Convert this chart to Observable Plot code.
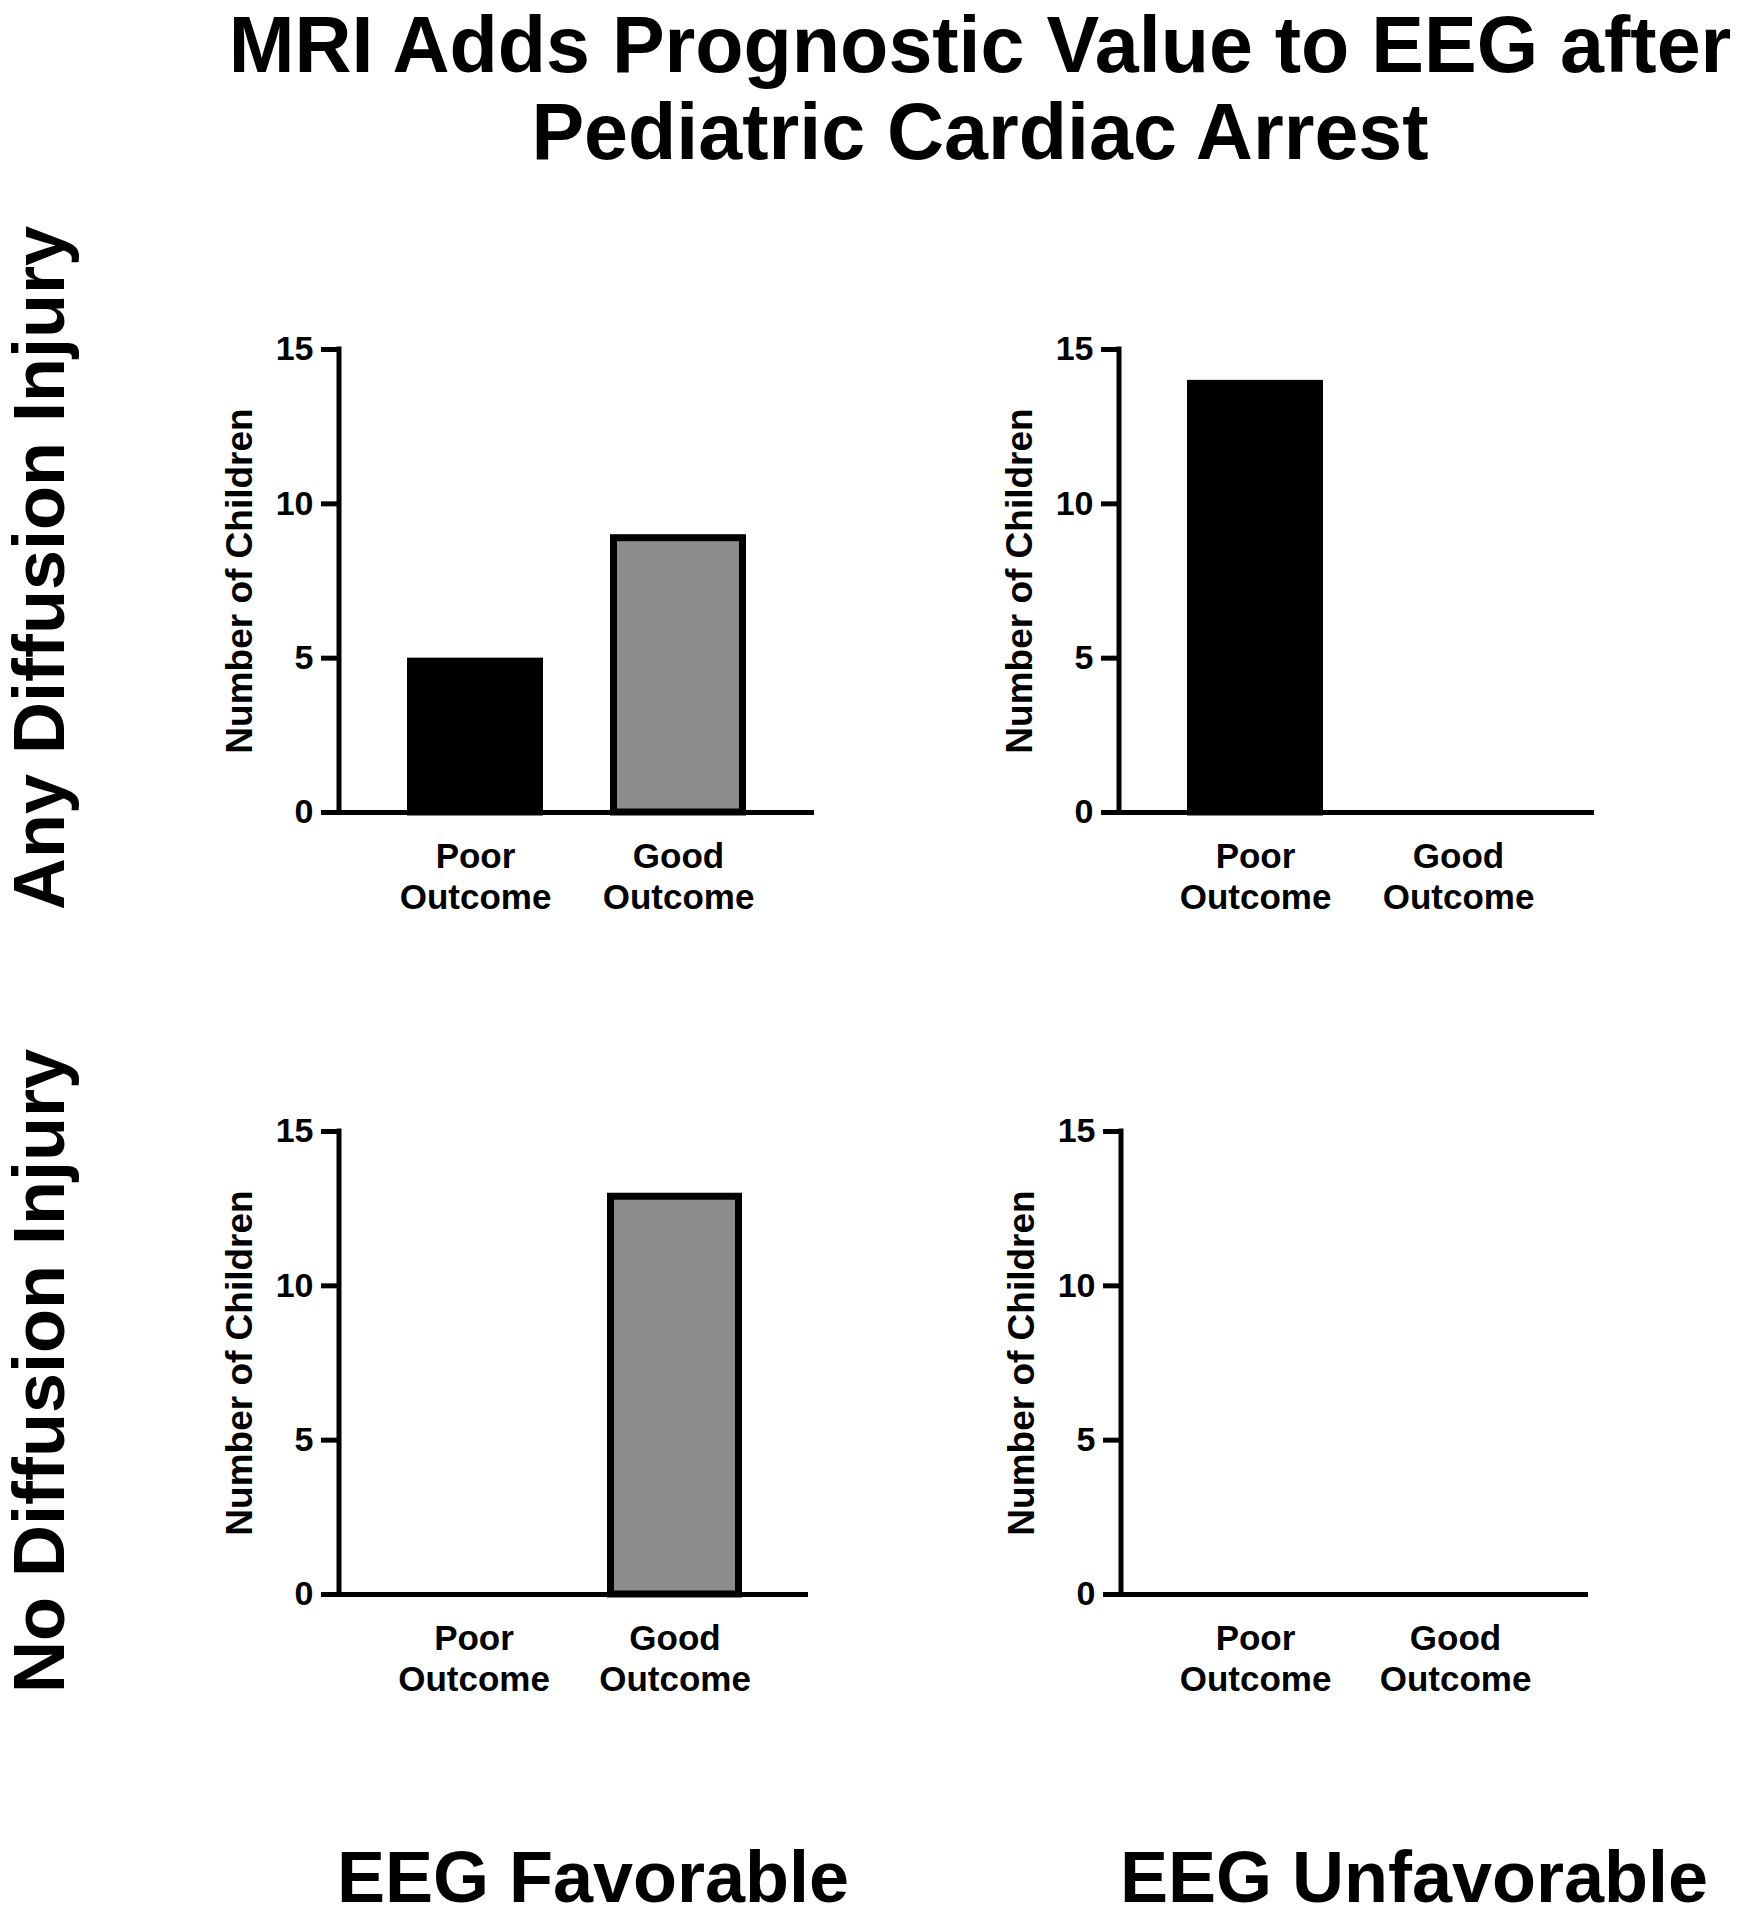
<!DOCTYPE html>
<html>
<head>
<meta charset="utf-8">
<script src="https://cdn.jsdelivr.net/npm/d3@7"></script>
<script src="https://cdn.jsdelivr.net/npm/@observablehq/plot@0.6"></script>
<style>
  body { margin: 0; background: #fff; }
  #root { position: relative; width: 1740px; height: 1920px; overflow: hidden;
          font-family: "Liberation Sans", Arial, Helvetica, sans-serif; font-weight: bold; color: #000; }
  .abs { position: absolute; white-space: nowrap; }
  .panel { position: absolute; }
</style>
</head>
<body>
<div id="root"></div>
<script>
// ---- data ----
const titleLines = ["MRI Adds Prognostic Value to EEG after", "Pediatric Cardiac Arrest"];
const outcomes = ["Poor Outcome", "Good Outcome"];
const eegGroups = ["EEG Favorable", "EEG Unfavorable"];
const mriGroups = ["Any Diffusion Injury", "No Diffusion Injury"];
const yLabel = "Number of Children";
const yTicks = [0, 5, 10, 15];
const anyFavorable = [5, 9];
const anyUnfavorable = [14, 0];
const noFavorable = [0, 13];
const noUnfavorable = [0, 0];
const barColors = ["#000000", "#8c8c8c"];

// ---- layout ----
const root = document.getElementById("root");
const FONT = '"Liberation Sans", Arial, Helvetica, sans-serif';

const title = document.createElement("div");
title.className = "abs";
Object.assign(title.style, {left: "220px", top: "1px", width: "1520px", textAlign: "center",
  fontSize: "79px", lineHeight: "87px"});
titleLines.forEach(t => { const d = document.createElement("div"); d.textContent = t; title.appendChild(d); });
root.appendChild(title);

// column labels (bottom)
[[eegGroups[0], 593], [eegGroups[1], 1414]].forEach(([t, cx]) => {
  const d = document.createElement("div");
  d.className = "abs";
  d.textContent = t;
  Object.assign(d.style, {left: (cx - 400) + "px", width: "800px", top: "1841px", height: "72px",
    textAlign: "center", fontSize: "72px", lineHeight: "72px"});
  root.appendChild(d);
});

// row labels (left, rotated)
[[mriGroups[0], 568], [mriGroups[1], 1371]].forEach(([t, cy]) => {
  const d = document.createElement("div");
  d.className = "abs";
  d.textContent = t;
  Object.assign(d.style, {left: (39 - 400) + "px", width: "800px", top: (cy - 40) + "px", height: "80px",
    textAlign: "center", fontSize: "72px", lineHeight: "80px", transform: "rotate(-90deg)",
    transformOrigin: "50% 50%"});
  root.appendChild(d);
});

const panels = [
  {values: anyFavorable,   left: 100, top: 200,  width: 780, height: 800, mt: 149, mb: 188, ml: 239, mr: 66},
  {values: anyUnfavorable, left: 900, top: 200,  width: 760, height: 800, mt: 149, mb: 188, ml: 219, mr: 66},
  {values: noFavorable,    left: 100, top: 1000, width: 780, height: 720, mt: 131, mb: 126, ml: 239, mr: 72},
  {values: noUnfavorable,  left: 900, top: 1000, width: 760, height: 720, mt: 131, mb: 126, ml: 221, mr: 72}
];

function yAxisLine(index, scales, values, dimensions) {
  const x = dimensions.marginLeft;
  const line = document.createElementNS("http://www.w3.org/2000/svg", "line");
  line.setAttribute("x1", x); line.setAttribute("x2", x);
  line.setAttribute("y1", scales.y(yTicks[yTicks.length - 1]) - 2.5);
  line.setAttribute("y2", scales.y(0) + 2.5);
  line.setAttribute("stroke", "#000");
  line.setAttribute("stroke-width", 5);
  return line;
}

panels.forEach(p => {
  const data = outcomes.map((o, i) => ({outcome: o, count: p.values[i]}));
  const chart = Plot.plot({
    width: p.width,
    height: p.height,
    marginTop: p.mt, marginBottom: p.mb, marginLeft: p.ml, marginRight: p.mr,
    style: {fontFamily: FONT, fontWeight: "bold", background: "transparent", color: "#000", overflow: "visible"},
    x: {domain: outcomes, padding: 0.33},
    y: {domain: [0, 15]},
    color: {domain: outcomes, range: barColors},
    marks: [
      Plot.barY(data, {x: "outcome", y: "count", fill: "outcome", stroke: "#000", strokeWidth: 7,
        inset: 3.5, insetBottom: 0, filter: d => d.count > 0}),
      Plot.ruleY([0], {stroke: "#000", strokeWidth: 5}),
      yAxisLine,
      Plot.axisY({ticks: yTicks, tickSize: 18, tickPadding: 8, strokeWidth: 5, fontSize: 34,
        fontWeight: "bold", label: null}),
      Plot.axisX({tickSize: 0, tickPadding: 26, fontSize: 35, fontWeight: "bold", lineHeight: 1.17,
        tickFormat: d => d.replace(" ", "\n"), label: null}),
      Plot.text([yLabel], {frameAnchor: "left", rotate: -90, dx: -88, fontSize: 37, fontWeight: "bold",
        lineAnchor: "bottom", textAnchor: "middle"})
    ]
  });
  chart.classList.add("panel");
  chart.style.left = p.left + "px";
  chart.style.top = p.top + "px";
  chart.style.position = "absolute";
  root.appendChild(chart);
});
</script>
</body>
</html>
